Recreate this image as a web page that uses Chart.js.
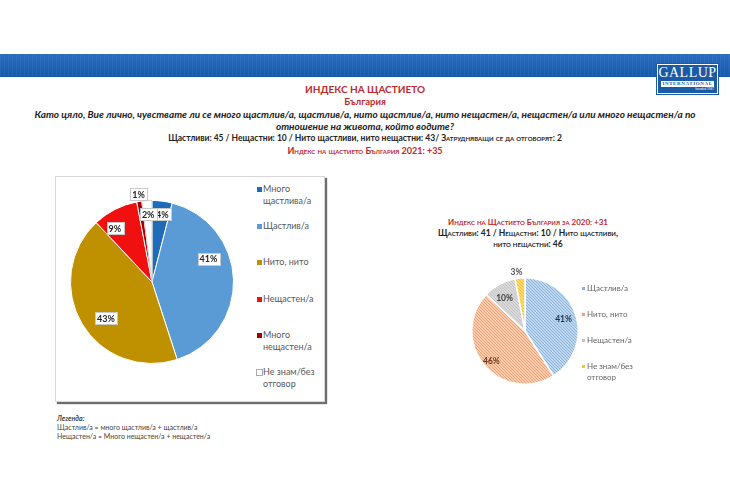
<!DOCTYPE html>
<html>
<head>
<meta charset="utf-8">
<script src="https://cdn.jsdelivr.net/npm/chart.js@4.4.1/dist/chart.umd.min.js"></script>
<style>
  body { margin: 0; width: 730px; height: 500px; background: #fff; position: relative; overflow: hidden; font-family: Lato, "Open Sans", sans-serif; }
  .abs { position: absolute; }
  .banner { left: 0; top: 54px; width: 730px; height: 23px;
    background: repeating-linear-gradient(90deg, rgba(255,255,255,0.05) 0 1px, rgba(0,0,0,0) 1px 4px), linear-gradient(180deg, #2a6cc0, #155aab); }
  .logo { left: 657px; top: 64px; width: 59px; height: 28px; background: #1a5aa6; border: 1px solid #fff; outline: 1px solid #1a5aa6; text-align: center; color: #fff; }
  .logo .g { font-family: "Liberation Serif", serif; font-size: 14px; line-height: 14px; letter-spacing: 0.5px; margin-top: 1px; }
  .logo .i { background: #fff; color: #1a5aa6; font-family: "Liberation Serif", serif; font-size: 5px; line-height: 6px; font-weight: bold; letter-spacing: 0.6px; margin: 1px 3px 0 3px; }
  .logo .f { font-size: 3px; line-height: 4px; text-align: right; margin-right: 3px; }
  .center { left: 0; width: 730px; text-align: center; white-space: nowrap; }
  .red { color: #c0282d; font-weight: bold; }
  .box { left: 55px; top: 176px; width: 268px; height: 224px; background: #fff; border: 1px solid #d8d8d8; box-shadow: 2px 2px 1px #6e6e6e; }
  .leg { font-size: 9px; line-height: 12px; color: #595959; width: 62px; }
  .leg .sq { position: absolute; left: -6px; top: 4px; width: 5px; height: 5px; }
  .leg2 { font-size: 8px; line-height: 11px; color: #666; width: 62px; }
  .leg2 .sq { position: absolute; left: -5px; top: 4px; width: 3px; height: 3px; }
</style>
</head>
<body>
<div class="abs banner"></div>
<div class="abs logo"><div class="g">GALLUP</div><div class="i">INTERNATIONAL</div><div class="f">founded 1947</div></div>

<div class="abs center red" style="top:83px;font-size:10px;">ИНДЕКС НА ЩАСТИЕТО</div>
<div class="abs center red" style="top:96px;font-size:9.5px;">България</div>
<div class="abs center" style="top:108px;font-size:10px;font-style:italic;font-weight:bold;color:#222;">Като цяло, Вие лично, чувствате ли се много щастлив/а, щастлив/а, нито щастлив/а, нито нещастен/а, нещастен/а или много нещастен/а по</div>
<div class="abs center" style="top:120px;font-size:10px;font-style:italic;font-weight:bold;color:#222;">отношение на живота, който водите?</div>
<div class="abs center" style="top:133px;font-size:8.5px;font-weight:bold;color:#222;">Щастливи: 45 / Нещастни: 10 / Нито щастливи, нито нещастни: 43/ <span style="font-variant:small-caps;">Затрудняващи се да отговорят</span>: 2</div>
<div class="abs center red" style="top:145px;font-size:9px;font-variant:small-caps;">Индекс на щастието България 2021: +35</div>

<div class="abs box"></div>
<canvas id="pie2021" class="abs" width="200" height="200" style="left:52px;top:182px;width:200px;height:200px;"></canvas>
<div id="leg2021"></div>

<div class="abs red" style="left:400px;width:256px;text-align:center;top:217px;font-size:8px;font-variant:small-caps;">Индекс на Щастието България за 2020: +31</div>
<div class="abs" style="left:400px;width:256px;text-align:center;top:228px;font-size:8.5px;line-height:11px;font-weight:bold;color:#222;font-variant:small-caps;">Щастливи: 41 / Нещастни: 10 / Нито щастливи,<br>нито нещастни: 46</div>
<canvas id="pie2020" class="abs" width="150" height="150" style="left:450px;top:256px;width:150px;height:150px;"></canvas>
<div id="leg2020"></div>

<div class="abs" style="left:57px;top:414px;font-size:7px;line-height:9px;color:#444;">
  <b><i>Легенда:</i></b><br>
  Щастлив/а = много щастлив/а + щастлив/а<br>
  Нещастен/а = Много нещастен/а + нещастен/а
</div>

<script>
// 2021
const labels2021 = ['Много щастлива/а', 'Щастлив/а', 'Нито, нито', 'Нещастен/а', 'Много нещастен/а', 'Не знам/без отговор'];
const values2021 = [4, 41, 43, 9, 1, 2];
const colors2021 = ['#1f6bb8', '#5b9bd5', '#bf9000', '#f01010', '#a80000', '#ffffff'];
// label position: fraction along arc, fraction of radius
const labelPos2021 = [[0.6, 0.84], [0.36, 0.75], [0.45, 0.72], [0.26, 0.8], [0.6, 1.09], [0.55, 0.83]];

// 2020
const labels2020 = ['Щастлив/а', 'Нито, нито', 'Нещастен/а', 'Не знам/без отговор'];
const values2020 = [41, 46, 10, 3];
const colors2020 = ['#bdd7ee', '#f8cbad', '#d9d9d9', '#ffd966'];
const dots2020 = ['#8fb4dc', '#eba47a', '#c4c4c4', '#f2c744'];
const labelColors2020 = ['#1f3450', '#6b3a1e', '#404040', '#555'];
const labelPos2020 = [[0.49, 0.76], [0.49, 0.84], [0.42, 0.73], [0.24, 1.12]];

function makePattern(base, dot) {
  const c = document.createElement('canvas');
  c.width = 3; c.height = 3;
  const g = c.getContext('2d');
  g.fillStyle = base; g.fillRect(0, 0, 3, 3);
  g.fillStyle = dot;
  g.fillRect(0, 0, 1, 1); g.fillRect(1, 1, 1, 1); g.fillRect(2, 2, 1, 1);
  return g.createPattern(c, 'repeat');
}

// draws the % labels on the slices
const pctLabels = {
  id: 'pctLabels',
  afterDatasetsDraw(chart, args, opts) {
    const ctx = chart.ctx;
    const meta = chart.getDatasetMeta(0);
    const data = chart.data.datasets[0].data;
    ctx.save();
    ctx.font = 'bold ' + opts.size + 'px Lato, sans-serif';
    ctx.textAlign = 'center';
    ctx.textBaseline = 'middle';
    meta.data.forEach((arc, i) => {
      const p = arc.getProps(['x', 'y', 'startAngle', 'endAngle', 'outerRadius'], true);
      const a = p.startAngle + opts.pos[i][0] * (p.endAngle - p.startAngle);
      const r = p.outerRadius * opts.pos[i][1];
      const x = p.x + Math.cos(a) * r;
      const y = p.y + Math.sin(a) * r;
      const txt = data[i] + '%';
      if (opts.boxed) {
        const w = ctx.measureText(txt).width + 4;
        ctx.fillStyle = '#fff';
        ctx.strokeStyle = '#c8c8c8';
        ctx.lineWidth = 1;
        ctx.fillRect(Math.round(x - w / 2), Math.round(y - 6), Math.round(w), 12);
        ctx.strokeRect(Math.round(x - w / 2) + 0.5, Math.round(y - 6) + 0.5, Math.round(w), 12);
      }
      ctx.fillStyle = opts.colors ? opts.colors[i] : '#262626';
      ctx.fillText(txt, x, y + 0.5);
    });
    ctx.restore();
  }
};

new Chart(document.getElementById('pie2021'), {
  type: 'pie',
  data: {
    labels: labels2021,
    datasets: [{
      data: values2021,
      backgroundColor: colors2021,
      borderColor: ['#fff', '#fff', '#fff', '#fff', '#fff', '#d0d0d0'],
      borderWidth: 1
    }]
  },
  options: {
    responsive: false,
    animation: false,
    layout: { padding: 18 },
    plugins: {
      legend: { display: false },
      tooltip: { enabled: false },
      pctLabels: { pos: labelPos2021, boxed: true, size: 9 }
    }
  },
  plugins: [pctLabels]
});

new Chart(document.getElementById('pie2020'), {
  type: 'pie',
  data: {
    labels: labels2020,
    datasets: [{
      data: values2020,
      backgroundColor: colors2020.map((c, i) => makePattern(c, dots2020[i])),
      borderColor: '#fff',
      borderWidth: 1.5
    }]
  },
  options: {
    responsive: false,
    animation: false,
    layout: { padding: 21 },
    plugins: {
      legend: { display: false },
      tooltip: { enabled: false },
      pctLabels: { pos: labelPos2020, boxed: false, size: 8.5, colors: labelColors2020 }
    }
  },
  plugins: [pctLabels]
});

// html legends
function buildLegend(id, labels, colors, cls, left, top, step, sqBorder) {
  const host = document.getElementById(id);
  labels.forEach((t, i) => {
    const d = document.createElement('div');
    d.className = 'abs ' + cls;
    d.style.left = left + 'px';
    d.style.top = (top + i * step) + 'px';
    const sq = document.createElement('span');
    sq.className = 'sq';
    sq.style.background = colors[i];
    if (sqBorder[i]) sq.style.outline = '1px solid #aaa';
    d.appendChild(sq);
    d.appendChild(document.createTextNode(t));
    host.appendChild(d);
  });
}
buildLegend('leg2021', labels2021, colors2021, 'leg', 263, 183, 36.6, [0, 0, 0, 0, 0, 1]);
buildLegend('leg2020', labels2020, dots2020, 'leg2', 587, 283, 26, [0, 0, 0, 0]);
</script>
</body>
</html>
